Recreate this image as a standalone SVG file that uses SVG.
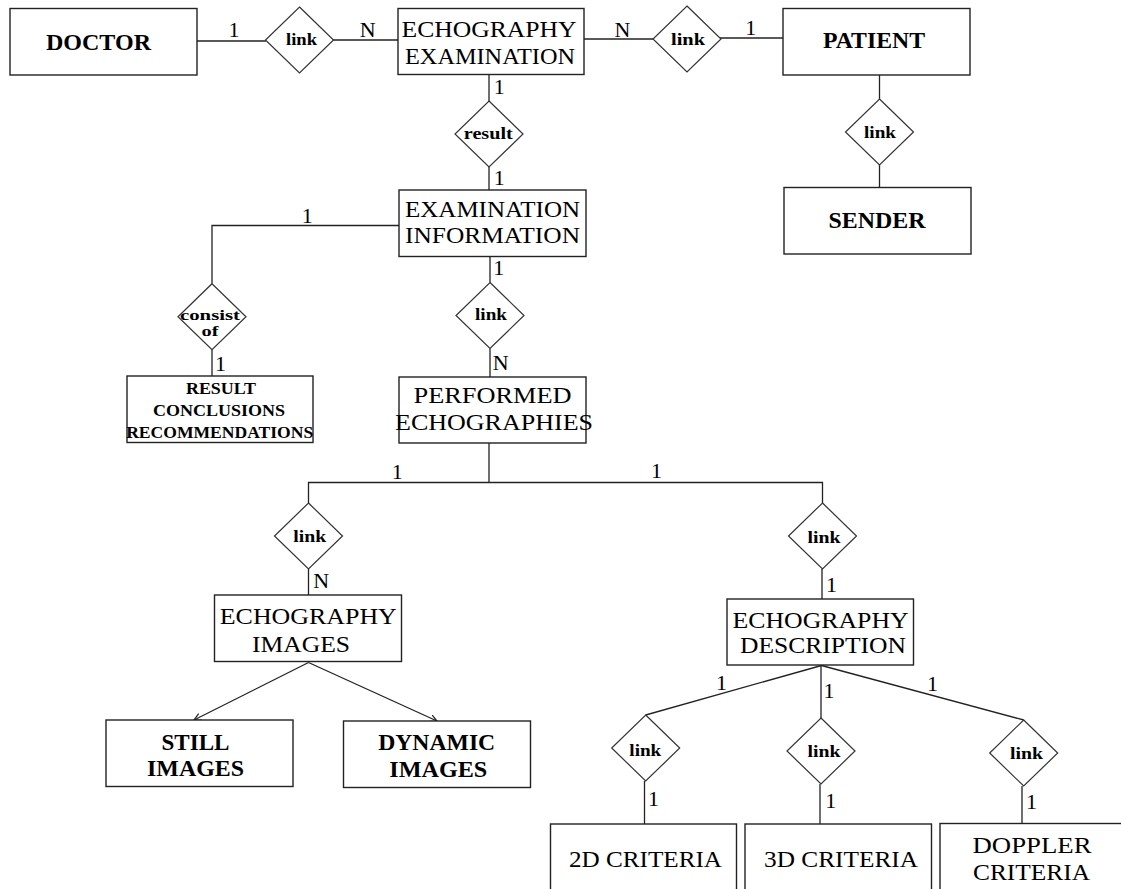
<svg xmlns="http://www.w3.org/2000/svg" width="1121" height="889" viewBox="0 0 1121 889">
<style>
.box{fill:#fff;stroke:#222;stroke-width:1.4}
.dia{fill:#fff;stroke:#333;stroke-width:1.2}
.ln{fill:none;stroke:#222;stroke-width:1.3}
text{font-family:"Liberation Serif","Times New Roman",serif;fill:#000}
.ent{font-size:24px;text-anchor:middle}
.entb{font-size:23px;font-weight:bold;text-anchor:middle}
.rel{font-size:17px;font-weight:bold;text-anchor:middle}
.rel2{font-size:14px;font-weight:bold;text-anchor:middle}
.small{font-size:17.5px;font-weight:bold;text-anchor:middle}
.card{font-size:22px}
</style>
<defs>
<polygon id="dm" points="0,-33 34,0 0,33 -34,0"/>
<marker id="arr" markerUnits="userSpaceOnUse" markerWidth="10" markerHeight="10" refX="7" refY="4" orient="auto">
<path d="M0,0.5 L7,4 L0,7.5" fill="none" stroke="#222" stroke-width="1.2"/>
</marker>
</defs>
<rect width="1121" height="889" fill="#fff"/>

<g id="connectors">
<line class="ln" x1="197" y1="41" x2="266" y2="41"/>
<line class="ln" x1="333" y1="40" x2="398" y2="40"/>
<line class="ln" x1="584" y1="39" x2="654" y2="39"/>
<line class="ln" x1="720" y1="38" x2="783" y2="38"/>
<line class="ln" x1="879.5" y1="75" x2="879.5" y2="99"/>
<line class="ln" x1="879.5" y1="165" x2="879.5" y2="187"/>
<line class="ln" x1="489" y1="74" x2="489" y2="101"/>
<line class="ln" x1="489" y1="167" x2="489" y2="190"/>
<polyline class="ln" points="399,225.5 212,225.5 212,283.5"/>
<line class="ln" x1="212" y1="350" x2="212" y2="376"/>
<line class="ln" x1="490" y1="256" x2="490" y2="282.5"/>
<line class="ln" x1="490" y1="348.5" x2="490" y2="377"/>
<line class="ln" x1="489" y1="443" x2="489" y2="482.5"/>
<polyline class="ln" points="308.5,503 308.5,482.5 822.5,482.5 822.5,503"/>
<line class="ln" x1="308.5" y1="569" x2="308.5" y2="595"/>
<line class="ln" x1="822" y1="569" x2="822" y2="599"/>
<line class="ln" x1="308.5" y1="662.5" x2="194" y2="720" marker-end="url(#arr)"/>
<line class="ln" x1="308.5" y1="662.5" x2="437" y2="721" marker-end="url(#arr)"/>
<line class="ln" x1="821.5" y1="665.5" x2="645.7" y2="715"/>
<line class="ln" x1="821" y1="665.5" x2="821" y2="718"/>
<line class="ln" x1="821.5" y1="665.5" x2="1023.7" y2="720"/>
<line class="ln" x1="644.5" y1="781" x2="644.5" y2="824"/>
<line class="ln" x1="820" y1="784" x2="820" y2="824"/>
<line class="ln" x1="1022" y1="786" x2="1022" y2="823"/>
</g>

<g id="cardinalities">
<text class="card" x="228.5" y="37.3">1</text>
<text class="card" x="359.7" y="37">N</text>
<text class="card" x="614.4" y="36.7">N</text>
<text class="card" x="745.3" y="35">1</text>
<text class="card" x="493.7" y="94">1</text>
<text class="card" x="493.7" y="185">1</text>
<text class="card" x="301.7" y="222.7">1</text>
<text class="card" x="215" y="371">1</text>
<text class="card" x="493.3" y="275">1</text>
<text class="card" x="492.7" y="370">N</text>
<text class="card" x="391.7" y="479">1</text>
<text class="card" x="651" y="478.3">1</text>
<text class="card" x="313.3" y="588.3">N</text>
<text class="card" x="826" y="591.7">1</text>
<text class="card" x="716" y="690">1</text>
<text class="card" x="823.4" y="698">1</text>
<text class="card" x="927" y="690.7">1</text>
<text class="card" x="648" y="806">1</text>
<text class="card" x="825.3" y="808.3">1</text>
<text class="card" x="1026" y="809.3">1</text>
</g>

<g id="doctor">
<rect class="box" x="10" y="8.5" width="187" height="66.5"/>
<text class="entb" x="98.5" y="50" textLength="105" lengthAdjust="spacingAndGlyphs">DOCTOR</text>
</g>
<g id="rel-doctor">
<use href="#dm" class="dia" x="299.5" y="40"/>
<text class="rel" x="301.5" y="45" textLength="31" lengthAdjust="spacingAndGlyphs">link</text>
</g>
<g id="echography-examination">
<rect class="box" x="398" y="8.5" width="186" height="66"/>
<text class="ent" x="489" y="36.7" textLength="175" lengthAdjust="spacingAndGlyphs">ECHOGRAPHY</text>
<text class="ent" x="490" y="64.3" textLength="170" lengthAdjust="spacingAndGlyphs">EXAMINATION</text>
</g>
<g id="rel-patient">
<use href="#dm" class="dia" x="687" y="39"/>
<text class="rel" x="688" y="45" textLength="34" lengthAdjust="spacingAndGlyphs">link</text>
</g>
<g id="patient">
<rect class="box" x="783" y="8.5" width="187" height="66.5"/>
<text class="entb" x="874" y="47.7" textLength="102" lengthAdjust="spacingAndGlyphs">PATIENT</text>
</g>
<g id="rel-sender">
<use href="#dm" class="dia" x="879.5" y="132"/>
<text class="rel" x="880" y="137.7" textLength="32" lengthAdjust="spacingAndGlyphs">link</text>
</g>
<g id="sender">
<rect class="box" x="784" y="187.5" width="187" height="66.5"/>
<text class="entb" x="877" y="227.7" textLength="97" lengthAdjust="spacingAndGlyphs">SENDER</text>
</g>
<g id="rel-result">
<use href="#dm" class="dia" x="489" y="134"/>
<text class="rel" x="488.3" y="139.3" textLength="49" lengthAdjust="spacingAndGlyphs">result</text>
</g>
<g id="examination-information">
<rect class="box" x="399" y="190" width="187" height="66.5"/>
<text class="ent" x="492.5" y="216.7" textLength="175" lengthAdjust="spacingAndGlyphs">EXAMINATION</text>
<text class="ent" x="492.5" y="242.7" textLength="175" lengthAdjust="spacingAndGlyphs">INFORMATION</text>
</g>
<g id="rel-consist">
<use href="#dm" class="dia" x="212" y="316.7"/>
<text class="rel2" x="210" y="320" textLength="60" lengthAdjust="spacingAndGlyphs">consist</text>
<text class="rel2" x="210" y="336" textLength="17" lengthAdjust="spacingAndGlyphs">of</text>
</g>
<g id="result-conclusions">
<rect class="box" x="127" y="376" width="186" height="66.5"/>
<text class="small" x="221" y="394.3" textLength="70" lengthAdjust="spacingAndGlyphs">RESULT</text>
<text class="small" x="219" y="416" textLength="132" lengthAdjust="spacingAndGlyphs">CONCLUSIONS</text>
<text class="small" x="219.7" y="437.7" textLength="187" lengthAdjust="spacingAndGlyphs">RECOMMENDATIONS</text>
</g>
<g id="rel-performed">
<use href="#dm" class="dia" x="490" y="315.5"/>
<text class="rel" x="491" y="320" textLength="32" lengthAdjust="spacingAndGlyphs">link</text>
</g>
<g id="performed-echographies">
<rect class="box" x="399" y="377" width="187" height="66"/>
<text class="ent" x="492.5" y="402.7" textLength="158" lengthAdjust="spacingAndGlyphs">PERFORMED</text>
<text class="ent" x="494" y="430" textLength="198" lengthAdjust="spacingAndGlyphs">ECHOGRAPHIES</text>
</g>
<g id="rel-images">
<use href="#dm" class="dia" x="308.5" y="536"/>
<text class="rel" x="309.7" y="541.7" textLength="33" lengthAdjust="spacingAndGlyphs">link</text>
</g>
<g id="rel-description">
<use href="#dm" class="dia" x="822.5" y="536"/>
<text class="rel" x="824" y="543.3" textLength="33" lengthAdjust="spacingAndGlyphs">link</text>
</g>
<g id="echography-images">
<rect class="box" x="214.5" y="595" width="187" height="66.5"/>
<text class="ent" x="308.3" y="624.3" textLength="177" lengthAdjust="spacingAndGlyphs">ECHOGRAPHY</text>
<text class="ent" x="301" y="651.7" textLength="98" lengthAdjust="spacingAndGlyphs">IMAGES</text>
</g>
<g id="still-images">
<rect class="box" x="106" y="720" width="187" height="66.5"/>
<text class="entb" x="195.5" y="750" textLength="68" lengthAdjust="spacingAndGlyphs">STILL</text>
<text class="entb" x="195.5" y="775.7" textLength="97" lengthAdjust="spacingAndGlyphs">IMAGES</text>
</g>
<g id="dynamic-images">
<rect class="box" x="343.5" y="721" width="187" height="66.5"/>
<text class="entb" x="436.7" y="750" textLength="117" lengthAdjust="spacingAndGlyphs">DYNAMIC</text>
<text class="entb" x="438.3" y="777.3" textLength="98" lengthAdjust="spacingAndGlyphs">IMAGES</text>
</g>
<g id="echography-description">
<rect class="box" x="727" y="599" width="186.5" height="66"/>
<text class="ent" x="820.6" y="627.7" textLength="176" lengthAdjust="spacingAndGlyphs">ECHOGRAPHY</text>
<text class="ent" x="823" y="653.3" textLength="166" lengthAdjust="spacingAndGlyphs">DESCRIPTION</text>
</g>
<g id="rel-2d">
<use href="#dm" class="dia" x="645.7" y="748"/>
<text class="rel" x="645.3" y="756" textLength="32" lengthAdjust="spacingAndGlyphs">link</text>
</g>
<g id="rel-3d">
<use href="#dm" class="dia" x="821" y="751"/>
<text class="rel" x="824" y="757.3" textLength="33" lengthAdjust="spacingAndGlyphs">link</text>
</g>
<g id="rel-doppler">
<use href="#dm" class="dia" x="1023.7" y="753"/>
<text class="rel" x="1026.4" y="759" textLength="33" lengthAdjust="spacingAndGlyphs">link</text>
</g>
<g id="criteria-2d">
<rect class="box" x="550.5" y="824" width="186" height="80"/>
<text class="ent" x="645.5" y="867.3" textLength="153" lengthAdjust="spacingAndGlyphs">2D CRITERIA</text>
</g>
<g id="criteria-3d">
<rect class="box" x="745" y="824" width="186.5" height="80"/>
<text class="ent" x="841" y="867.3" textLength="154" lengthAdjust="spacingAndGlyphs">3D CRITERIA</text>
</g>
<g id="criteria-doppler">
<rect class="box" x="940" y="823.5" width="200" height="80"/>
<text class="ent" x="1032" y="852.7" textLength="119" lengthAdjust="spacingAndGlyphs">DOPPLER</text>
<text class="ent" x="1031.5" y="880" textLength="117" lengthAdjust="spacingAndGlyphs">CRITERIA</text>
</g>
</svg>
